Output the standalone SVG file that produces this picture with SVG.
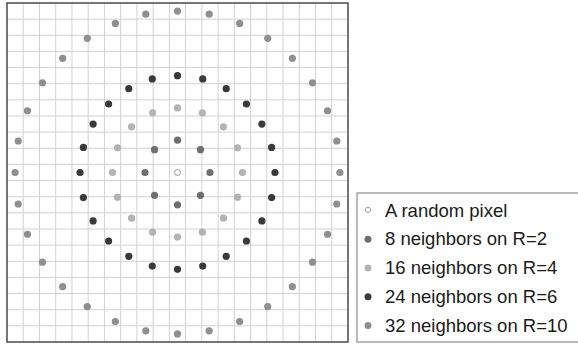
<svg xmlns="http://www.w3.org/2000/svg" width="578" height="344" viewBox="0 0 578 344">
<style>
.grid{stroke:#d2d2d2;stroke-width:1;fill:none}
.frame{stroke:#4a4a4a;stroke-width:1.5;fill:none}
.r2{fill:#6f6f6f}
.r4{fill:#b3b3b3}
.r6{fill:#3a3a3a}
.r10{fill:#8f8f8f}
.ctr{fill:#fff;stroke:#9a9a9a;stroke-width:1}
.lbl{font-family:"Liberation Sans",Arial,sans-serif;font-size:18.5px;fill:#1a1a1a}
</style>
<rect width="578" height="344" fill="#fff"/>
<g id="grid">
<path class="grid" d="M23.24 3V342M39.48 3V342M55.71 3V342M71.95 3V342M88.19 3V342M104.43 3V342M120.67 3V342M136.9 3V342M153.14 3V342M169.38 3V342M185.62 3V342M201.86 3V342M218.1 3V342M234.33 3V342M250.57 3V342M266.81 3V342M283.05 3V342M299.29 3V342M315.52 3V342M331.76 3V342M7 19.14H348M7 35.29H348M7 51.43H348M7 67.57H348M7 83.71H348M7 99.86H348M7 116H348M7 132.14H348M7 148.29H348M7 164.43H348M7 180.57H348M7 196.71H348M7 212.86H348M7 229H348M7 245.14H348M7 261.29H348M7 277.43H348M7 293.57H348M7 309.71H348M7 325.86H348"/>
<rect class="frame" x="7" y="3" width="341" height="339"/>
</g>
<g id="center">
<circle class="ctr" cx="177.5" cy="172.5" r="3"/>
</g>
<g id="ring-r2">
<circle class="r2" cx="177.5" cy="140.22" r="3.6"/>
<circle class="r2" cx="177.5" cy="204.78" r="3.6"/>
<circle class="r2" cx="145.02" cy="172.5" r="3.6"/>
<circle class="r2" cx="209.98" cy="172.5" r="3.6"/>
<circle class="r2" cx="154.53" cy="149.67" r="3.6"/>
<circle class="r2" cx="200.47" cy="149.67" r="3.6"/>
<circle class="r2" cx="154.53" cy="195.33" r="3.6"/>
<circle class="r2" cx="200.47" cy="195.33" r="3.6"/>
</g>
<g id="ring-r4">
<circle class="r4" cx="177.5" cy="107.94" r="3.6"/>
<circle class="r4" cx="177.5" cy="237.06" r="3.6"/>
<circle class="r4" cx="152.64" cy="112.85" r="3.6"/>
<circle class="r4" cx="202.36" cy="112.85" r="3.6"/>
<circle class="r4" cx="152.64" cy="232.15" r="3.6"/>
<circle class="r4" cx="202.36" cy="232.15" r="3.6"/>
<circle class="r4" cx="131.57" cy="126.85" r="3.6"/>
<circle class="r4" cx="223.43" cy="126.85" r="3.6"/>
<circle class="r4" cx="131.57" cy="218.15" r="3.6"/>
<circle class="r4" cx="223.43" cy="218.15" r="3.6"/>
<circle class="r4" cx="117.49" cy="147.79" r="3.6"/>
<circle class="r4" cx="237.51" cy="147.79" r="3.6"/>
<circle class="r4" cx="117.49" cy="197.21" r="3.6"/>
<circle class="r4" cx="237.51" cy="197.21" r="3.6"/>
<circle class="r4" cx="112.54" cy="172.5" r="3.6"/>
<circle class="r4" cx="242.46" cy="172.5" r="3.6"/>
</g>
<g id="ring-r6">
<circle class="r6" cx="177.5" cy="75.66" r="3.6"/>
<circle class="r6" cx="177.5" cy="269.34" r="3.6"/>
<circle class="r6" cx="152.28" cy="78.96" r="3.6"/>
<circle class="r6" cx="202.72" cy="78.96" r="3.6"/>
<circle class="r6" cx="152.28" cy="266.04" r="3.6"/>
<circle class="r6" cx="202.72" cy="266.04" r="3.6"/>
<circle class="r6" cx="128.78" cy="88.63" r="3.6"/>
<circle class="r6" cx="226.22" cy="88.63" r="3.6"/>
<circle class="r6" cx="128.78" cy="256.37" r="3.6"/>
<circle class="r6" cx="226.22" cy="256.37" r="3.6"/>
<circle class="r6" cx="108.6" cy="104.02" r="3.6"/>
<circle class="r6" cx="246.4" cy="104.02" r="3.6"/>
<circle class="r6" cx="108.6" cy="240.98" r="3.6"/>
<circle class="r6" cx="246.4" cy="240.98" r="3.6"/>
<circle class="r6" cx="93.11" cy="124.08" r="3.6"/>
<circle class="r6" cx="261.89" cy="124.08" r="3.6"/>
<circle class="r6" cx="93.11" cy="220.92" r="3.6"/>
<circle class="r6" cx="261.89" cy="220.92" r="3.6"/>
<circle class="r6" cx="83.38" cy="147.44" r="3.6"/>
<circle class="r6" cx="271.62" cy="147.44" r="3.6"/>
<circle class="r6" cx="83.38" cy="197.56" r="3.6"/>
<circle class="r6" cx="271.62" cy="197.56" r="3.6"/>
<circle class="r6" cx="80.06" cy="172.5" r="3.6"/>
<circle class="r6" cx="274.94" cy="172.5" r="3.6"/>
</g>
<g id="ring-r10">
<circle class="r10" cx="177.5" cy="11.1" r="3.6"/>
<circle class="r10" cx="177.5" cy="333.9" r="3.6"/>
<circle class="r10" cx="145.82" cy="14.2" r="3.6"/>
<circle class="r10" cx="209.18" cy="14.2" r="3.6"/>
<circle class="r10" cx="145.82" cy="330.8" r="3.6"/>
<circle class="r10" cx="209.18" cy="330.8" r="3.6"/>
<circle class="r10" cx="115.35" cy="23.39" r="3.6"/>
<circle class="r10" cx="239.65" cy="23.39" r="3.6"/>
<circle class="r10" cx="115.35" cy="321.61" r="3.6"/>
<circle class="r10" cx="239.65" cy="321.61" r="3.6"/>
<circle class="r10" cx="87.28" cy="38.3" r="3.6"/>
<circle class="r10" cx="267.72" cy="38.3" r="3.6"/>
<circle class="r10" cx="87.28" cy="306.7" r="3.6"/>
<circle class="r10" cx="267.72" cy="306.7" r="3.6"/>
<circle class="r10" cx="62.67" cy="58.37" r="3.6"/>
<circle class="r10" cx="292.33" cy="58.37" r="3.6"/>
<circle class="r10" cx="62.67" cy="286.63" r="3.6"/>
<circle class="r10" cx="292.33" cy="286.63" r="3.6"/>
<circle class="r10" cx="42.47" cy="82.83" r="3.6"/>
<circle class="r10" cx="312.53" cy="82.83" r="3.6"/>
<circle class="r10" cx="42.47" cy="262.17" r="3.6"/>
<circle class="r10" cx="312.53" cy="262.17" r="3.6"/>
<circle class="r10" cx="27.46" cy="110.74" r="3.6"/>
<circle class="r10" cx="327.54" cy="110.74" r="3.6"/>
<circle class="r10" cx="27.46" cy="234.26" r="3.6"/>
<circle class="r10" cx="327.54" cy="234.26" r="3.6"/>
<circle class="r10" cx="18.22" cy="141.01" r="3.6"/>
<circle class="r10" cx="336.78" cy="141.01" r="3.6"/>
<circle class="r10" cx="18.22" cy="203.99" r="3.6"/>
<circle class="r10" cx="336.78" cy="203.99" r="3.6"/>
<circle class="r10" cx="15.1" cy="172.5" r="3.6"/>
<circle class="r10" cx="339.9" cy="172.5" r="3.6"/>
</g>
<g id="legend">
<rect x="357" y="193" width="230" height="149" fill="#fff" stroke="#a3a3a3" stroke-width="1.5"/>
<circle class="ctr" cx="368" cy="209.8" r="2.6"/>
<text class="lbl" x="385" y="216.5">A random pixel</text>
<circle class="r2" cx="368" cy="239.2" r="3.5"/>
<text class="lbl" x="385" y="245.3">8 neighbors on R=2</text>
<circle class="r4" cx="368" cy="268" r="3.5"/>
<text class="lbl" x="385" y="274">16 neighbors on R=4</text>
<circle class="r6" cx="368" cy="296.8" r="3.5"/>
<text class="lbl" x="385" y="302.8">24 neighbors on R=6</text>
<circle class="r10" cx="368" cy="325.6" r="3.5"/>
<text class="lbl" x="385" y="331.6">32 neighbors on R=10</text>
</g>
</svg>
